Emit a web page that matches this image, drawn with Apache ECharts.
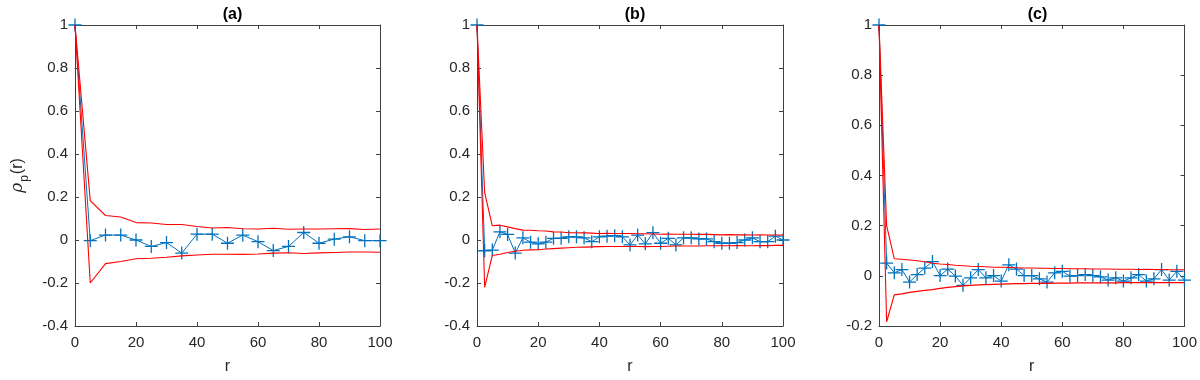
<!DOCTYPE html>
<html>
<head>
<meta charset="utf-8">
<script src="https://cdn.jsdelivr.net/npm/echarts@6/dist/echarts.min.js"></script>
<style>
  html, body { margin: 0; padding: 0; background: #fff; }
  #chart { width: 1200px; height: 380px; }
</style>
</head>
<body>
<div id="chart"></div>
<script>
// lags for panel (a)
var rA = [0, 5, 10, 15, 20, 25, 30, 35, 40, 45, 50, 55, 60, 65, 70, 75, 80, 85, 90, 95, 100]
var rhoA = [1, -0.003, 0.023, 0.023, 0, -0.03, -0.012, -0.061, 0.027, 0.027, -0.015, 0.023, -0.008, -0.049, -0.03, 0.035, -0.015, 0.004, 0.015, -0.003, -0.003]
var upA = [1, 0.183, 0.114, 0.107, 0.081, 0.079, 0.072, 0.072, 0.063, 0.056, 0.058, 0.052, 0.051, 0.055, 0.05, 0.051, 0.051, 0.052, 0.053, 0.049, 0.051]
var loA = [1, -0.2, -0.11, -0.1, -0.087, -0.085, -0.08, -0.074, -0.07, -0.066, -0.066, -0.067, -0.065, -0.061, -0.059, -0.063, -0.06, -0.058, -0.056, -0.056, -0.057]

// lags for panels (b) and (c)
var rBC = [0, 2.5, 5, 7.5, 10, 12.5, 15, 17.5, 20, 22.5, 25, 27.5, 30, 32.5, 35, 37.5, 40, 42.5, 45, 47.5, 50,
    52.5, 55, 57.5, 60, 62.5, 65, 67.5, 70, 72.5, 75, 77.5, 80, 82.5, 85, 87.5, 90, 92.5, 95, 97.5, 100]
var rhoB = [1, -0.05, -0.047, 0.038, 0.026, -0.061, 0.01, -0.01, -0.018, -0.01, 0.008, 0.008, 0.015, 0.015, 0.01, -0.008, 0.015, 0.018, 0.02, 0.015, -0.023,
    0.023, -0.018, 0.034, -0.015, 0.008, -0.023, 0.01, 0.01, 0.005, 0.005, -0.008, -0.015, -0.015, -0.012, 0, 0.01, -0.008, -0.008, 0.018, 0]
var upB = [1, 0.22, 0.066, 0.069, 0.061, 0.053, 0.046, 0.045, 0.043, 0.042, 0.038, 0.037, 0.034, 0.034, 0.033, 0.032, 0.03, 0.031, 0.03, 0.03, 0.03,
    0.029, 0.029, 0.028, 0.027, 0.028, 0.027, 0.027, 0.027, 0.026, 0.026, 0.025, 0.024, 0.025, 0.024, 0.024, 0.023, 0.024, 0.023, 0.023, 0.023]
var loB = [1, -0.22, -0.072, -0.066, -0.058, -0.052, -0.048, -0.046, -0.045, -0.042, -0.04, -0.038, -0.036, -0.034, -0.033, -0.032, -0.031, -0.03, -0.03, -0.03, -0.03,
    -0.03, -0.031, -0.03, -0.03, -0.029, -0.028, -0.028, -0.028, -0.028, -0.027, -0.027, -0.027, -0.027, -0.026, -0.027, -0.027, -0.026, -0.026, -0.025, -0.025]
var rhoC = [1, 0.051, 0.012, 0.025, -0.025, 0.005, 0.031, 0.057, 0.001, 0.027, -0.001, -0.038, -0.008, 0.025, -0.008, 0.001, -0.021, 0.044, 0.027, 0.001, 0.001,
    -0.012, -0.025, 0.012, 0.018, -0.001, 0.001, 0.005, 0.001, -0.004, -0.017, -0.008, -0.021, -0.008, 0.005, -0.021, -0.012, 0.025, -0.017, 0.018, -0.017]
var upC = [1, 0.2, 0.068, 0.066, 0.063, 0.06, 0.056, 0.05, 0.047, 0.045, 0.042, 0.04, 0.038, 0.037, 0.036, 0.034, 0.034, 0.033, 0.032, 0.031, 0.031,
    0.03, 0.03, 0.029, 0.029, 0.028, 0.028, 0.028, 0.027, 0.027, 0.027, 0.026, 0.026, 0.026, 0.025, 0.026, 0.025, 0.025, 0.024, 0.024, 0.024]
var loC = [1, -0.183, -0.076, -0.072, -0.066, -0.062, -0.058, -0.055, -0.05, -0.046, -0.043, -0.04, -0.038, -0.036, -0.035, -0.034, -0.033, -0.032, -0.031, -0.031, -0.03,
    -0.03, -0.03, -0.029, -0.029, -0.029, -0.028, -0.028, -0.028, -0.028, -0.028, -0.028, -0.027, -0.027, -0.027, -0.027, -0.027, -0.027, -0.027, -0.027, -0.027]

var titles = ['(a)', '(b)', '(c)']
var yMins = [-0.4, -0.4, -0.2]

var panels = [
    { r: rA, rho: rhoA, up: upA, lo: loA },
    { r: rBC, rho: rhoB, up: upB, lo: loB },
    { r: rBC, rho: rhoC, up: upC, lo: loC }
]
var gridLefts = [75, 477, 879]
var gridWidths = [305, 306, 307]

var FONT = 'Liberation Sans, Arial, sans-serif'
var AX = '#404040'
var BLUE = '#0072BD'
var RED = '#FF0000'
// plus marker, roughly 1.3px strokes at size 13
var PLUS = 'path://M10.8,0H13.2V10.8H24V13.2H13.2V24H10.8V13.2H0V10.8H10.8Z'

function pairs(xs, ys) {
    return xs.map(function (x, i) { return [x, ys[i]] })
}

var grid = [], xAxis = [], yAxis = [], series = [], title = []

panels.forEach(function (p, i) {
    grid.push({ left: gridLefts[i], width: gridWidths[i], top: 25, height: 306 })
    title.push({
        text: titles[i],
        left: gridLefts[i] + gridWidths[i] / 2,
        top: 2,
        textAlign: 'center',
        textStyle: { fontFamily: FONT, fontWeight: 'bold', fontSize: 16, color: '#000' }
    })
    var base = {
        type: 'value', gridIndex: i, min: 0, max: 100, interval: 20,
        splitLine: { show: false },
        axisLine: { show: true, onZero: false, lineStyle: { color: AX, width: 1 } },
        axisTick: { show: true, inside: true, length: 4, lineStyle: { color: AX } }
    }
    xAxis.push(Object.assign({}, base, {
        position: 'bottom',
        name: 'r', nameLocation: 'middle', nameGap: 33,
        nameTextStyle: { fontFamily: FONT, fontSize: 16, color: '#262626' },
        axisLabel: { fontFamily: FONT, fontSize: 15, color: '#262626', margin: 9 }
    }))
    xAxis.push(Object.assign({}, base, { position: 'top', axisLabel: { show: false } }))

    var ybase = {
        type: 'value', gridIndex: i, min: yMins[i], max: 1, interval: 0.2,
        splitLine: { show: false },
        axisLine: { show: true, onZero: false, lineStyle: { color: AX, width: 1 } },
        axisTick: { show: true, inside: true, length: 4, lineStyle: { color: AX } }
    }
    var yLeft = Object.assign({}, ybase, {
        position: 'left',
        axisLabel: { fontFamily: FONT, fontSize: 15, color: '#262626', margin: 7 }
    })
    if (i === 0) {
        yLeft.name = '{g|ρ}{s|p}{n|(r)}'
        yLeft.nameLocation = 'middle'
        yLeft.nameGap = 44
        yLeft.nameRotate = 90
        yLeft.nameTextStyle = {
            fontFamily: FONT, color: '#262626',
            rich: {
                g: { fontSize: 17, fontStyle: 'italic', fontFamily: 'DejaVu Serif, serif', lineHeight: 26, verticalAlign: 'middle' },
                s: { fontSize: 12, fontFamily: FONT, lineHeight: 26, verticalAlign: 'bottom', padding: [0, 1, 0, 1] },
                n: { fontSize: 16, fontFamily: FONT, lineHeight: 26, verticalAlign: 'middle' }
            }
        }
    }
    yAxis.push(yLeft)
    yAxis.push(Object.assign({}, ybase, { position: 'right', axisLabel: { show: false } }))

    var xi = 2 * i
    series.push({
        type: 'line', xAxisIndex: xi, yAxisIndex: xi, data: pairs(p.r, p.up),
        symbol: 'none', lineStyle: { color: RED, width: 1.1 }, z: 3, clip: false
    })
    series.push({
        type: 'line', xAxisIndex: xi, yAxisIndex: xi, data: pairs(p.r, p.lo),
        symbol: 'none', lineStyle: { color: RED, width: 1.1 }, z: 3, clip: false
    })
    series.push({
        type: 'line', xAxisIndex: xi, yAxisIndex: xi, data: pairs(p.r, p.rho),
        symbol: PLUS, symbolSize: 13, showAllSymbol: true,
        itemStyle: { color: BLUE }, lineStyle: { color: BLUE, width: 1 }, z: 2, clip: false
    })
})

var chart = echarts.init(document.getElementById('chart'))
chart.setOption({
    animation: false,
    backgroundColor: '#fff',
    title: title,
    grid: grid,
    xAxis: xAxis,
    yAxis: yAxis,
    series: series
})
</script>
</body>
</html>
